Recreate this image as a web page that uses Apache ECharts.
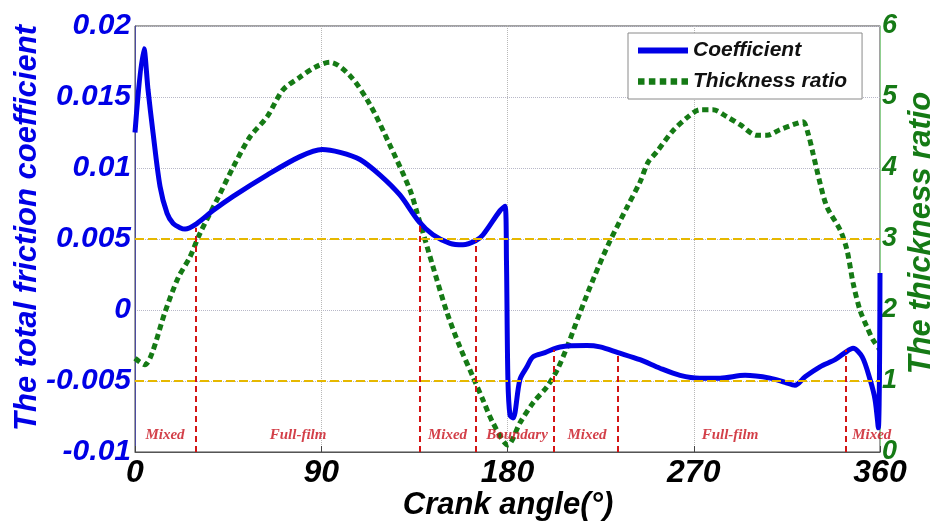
<!DOCTYPE html>
<html>
<head>
<meta charset="utf-8">
<script src="https://cdn.jsdelivr.net/npm/echarts/dist/echarts.min.js"></script>
<style>
  html, body { margin: 0; padding: 0; background: #fff; }
  #chart { width: 930px; height: 522px; }
</style>
</head>
<body>
<div id="chart"></div>
<script>
// friction coefficient vs crank angle
const coefAngle = [0, 4.3, 6.3, 8.7, 12.1, 15.5, 18.4, 21.7, 24.2, 30, 37.7, 47.4, 63.8, 79.7, 90.4,
  99.1, 108.7, 118.4, 128, 136.8, 144, 152.2, 158.5, 164.8, 168.2, 176.4, 178.8, 179.5, 180.2, 181.2,
  182.7, 186, 189.4, 192.3, 198.1, 205.4, 218.4, 224.7, 233.4, 244, 253.7, 263.4, 273, 282.7, 294.8,
  306.9, 314.1, 318.9, 323.8, 331, 338.3, 343.1, 347, 351.4, 355.2, 357.6, 359.2, 360]
const coefValue = [0.0125, 0.0184, 0.0155, 0.0125, 0.0087, 0.0068, 0.0061, 0.0058, 0.0057, 0.0061, 0.0070, 0.0080, 0.0095, 0.0108, 0.0113,
  0.0111, 0.0106, 0.0095, 0.0081, 0.0063, 0.0053, 0.0047, 0.0046, 0.0049, 0.0053, 0.0070, 0.0073, 0.0035, -0.0049, -0.0074,
  -0.0076, -0.0049, -0.0040, -0.0033, -0.0030, -0.0026, -0.0025, -0.0026, -0.0030, -0.0035, -0.0041, -0.0046, -0.0048, -0.0048, -0.0046,
  -0.0048, -0.0051, -0.0053, -0.0047, -0.0040, -0.0035, -0.0030, -0.0027, -0.0033, -0.0049, -0.0063, -0.0083, 0.0026]

// film thickness ratio vs crank angle
const ratioAngle = [0, 4.8, 8.2, 14.5, 20.8, 26.6, 31.4, 39.6, 47.4, 55.6, 63.8, 71.5, 79.7, 87, 94.2,
  103.9, 113.6, 123.2, 132.9, 136.3, 144, 150.8, 157, 163.3, 168.2, 173, 180.2, 186, 192.3, 199.1,
  203.9, 208.8, 215, 221.8, 229, 237.8, 244, 247.9, 252.2, 259.5, 267.2, 273, 279.3, 286.1, 292.4,
  300.6, 305.4, 311.7, 318, 322.8, 325.2, 327.6, 331, 334.4, 340.7, 344, 347, 350.3, 353.7, 356.6, 360]
const ratioValue = [1.32, 1.23, 1.39, 1.97, 2.45, 2.75, 3.08, 3.55, 4.01, 4.44, 4.72, 5.10, 5.28, 5.42, 5.49,
  5.30, 4.89, 4.32, 3.69, 3.37, 2.61, 1.96, 1.48, 1.06, 0.73, 0.41, 0.10, 0.41, 0.69, 0.92,
  1.15, 1.48, 1.96, 2.46, 2.94, 3.45, 3.80, 4.08, 4.23, 4.51, 4.72, 4.82, 4.82, 4.72, 4.61,
  4.46, 4.46, 4.54, 4.61, 4.65, 4.49, 4.21, 3.79, 3.45, 3.13, 2.85, 2.38, 2.0, 1.76, 1.58, 1.44]

// lubrication regime boundaries (angle, top of the red line on the coefficient axis)
const boundaryAngle = [29.5, 137.7, 164.8, 202.5, 233.4, 343.6]
const boundaryTop = [0.0058, 0.0061, 0.0049, -0.0028, -0.0030, -0.0028]
const regionName = ['Mixed', 'Full-film', 'Mixed', 'Boundary', 'Mixed', 'Full-film', 'Mixed']
const regionAngle = [14.5, 78.8, 151, 184.6, 218.4, 287.5, 356]

const thresholds = [0.005, -0.005]
const xTicks = ['0', '90', '180', '270', '360']

const FONT = 'Liberation Sans'
const BLUE = '#0000e6'
const GREEN = '#157a15'

const myChart = echarts.init(document.getElementById('chart'))

const options = {
  animation: false,
  grid: {
    left: 135, right: 50, top: 26, bottom: 70,
    show: true, borderColor: '#444', borderWidth: 1
  },
  legend: {
    orient: 'vertical',
    left: 628, top: 33,
    padding: [7, 15, 7, 10],
    itemGap: 10,
    itemWidth: 50, itemHeight: 14,
    backgroundColor: '#fff',
    borderColor: '#8a8a8a', borderWidth: 1,
    textStyle: { fontFamily: FONT, fontStyle: 'italic', fontWeight: 'bold', fontSize: 21, color: '#111' },
    data: [
      { name: 'Coefficient', icon: 'path://M0,0 L50,0 L50,6 L0,6 Z', itemStyle: { color: BLUE } },
      { name: 'Thickness ratio', icon: 'path://M0,0 L6,0 L6,6 L0,6 Z M10,0 L16,0 L16,6 L10,6 Z M20,0 L26,0 L26,6 L20,6 Z M30,0 L36,0 L36,6 L30,6 Z M40,0 L46,0 L46,6 L40,6 Z', itemStyle: { color: GREEN } }
    ]
  },
  xAxis: {
    type: 'value', min: 0, max: 360, interval: 90,
    axisLine: { onZero: false, lineStyle: { color: '#555', width: 1 } },
    axisTick: { inside: true, length: 6, lineStyle: { color: '#444' } },
    axisLabel: {
      margin: 5,
      fontFamily: FONT, fontStyle: 'italic', fontWeight: 'bold', fontSize: 32, color: '#000',
      formatter: v => xTicks[Math.round(v / 90)]
    },
    splitLine: { show: true, lineStyle: { color: '#b8b8b8', type: 'dotted', width: 1 } }
  },
  yAxis: [
    {
      type: 'value', min: -0.01, max: 0.02, interval: 0.005,
      axisLine: { show: true, lineStyle: { color: '#4b4ba0', width: 1 } },
      axisTick: { show: false },
      axisLabel: {
        margin: 4,
        fontFamily: FONT, fontStyle: 'italic', fontWeight: 'bold', fontSize: 30, color: BLUE,
        formatter: v => String(+v.toFixed(3))
      },
      splitLine: { show: true, lineStyle: { color: '#b8b8c8', type: 'dotted', width: 1 } }
    },
    {
      type: 'value', min: 0, max: 6, interval: 1,
      position: 'right',
      axisLine: { show: true, lineStyle: { color: '#8fcf8f', width: 1 } },
      axisTick: { show: false },
      axisLabel: {
        margin: 2,
        fontFamily: FONT, fontStyle: 'italic', fontWeight: 'bold', fontSize: 27, color: GREEN
      },
      splitLine: { show: false }
    }
  ],
  series: [
    {
      name: 'Thickness ratio',
      type: 'line',
      yAxisIndex: 1,
      data: ratioAngle.map((a, i) => [a, ratioValue[i]]),
      symbol: 'none',
      smooth: 0.3,
      z: 3,
      lineStyle: { color: GREEN, width: 5, type: [6, 4] },
      itemStyle: { color: GREEN }
    },
    {
      name: 'Coefficient',
      type: 'line',
      yAxisIndex: 0,
      data: coefAngle.map((a, i) => [a, coefValue[i]]),
      symbol: 'none',
      smooth: 0.3,
      z: 4,
      lineStyle: { color: BLUE, width: 5 },
      itemStyle: { color: BLUE },
      markLine: {
        silent: true,
        symbol: 'none',
        label: { show: false },
        data: [
          ...thresholds.map(t => [
            { coord: [0, t], lineStyle: { color: '#e6b800', type: [9, 4], width: 2 } },
            { coord: [360, t] }
          ]),
          ...boundaryAngle.map((a, i) => [
            { coord: [a, -0.01], lineStyle: { color: '#d41414', type: [6, 4], width: 2 } },
            { coord: [a, boundaryTop[i]] }
          ])
        ]
      }
    },
    {
      // regime names along the bottom of the plot
      type: 'scatter',
      yAxisIndex: 0,
      symbolSize: 0,
      silent: true,
      z: 5,
      data: regionAngle.map((a, i) => ({ value: [a, -0.0088], name: regionName[i] })),
      label: {
        show: true,
        position: 'inside',
        formatter: p => p.name,
        fontFamily: 'Liberation Serif', fontStyle: 'italic', fontWeight: 'bold',
        fontSize: 15, color: '#c8101c'
      }
    }
  ],
  graphic: [
    {
      type: 'text', x: 27, y: 228, rotation: Math.PI / 2,
      style: {
        text: 'The total friction coefficient', fill: BLUE,
        font: 'italic bold 31px "Liberation Sans"', textAlign: 'center', textVerticalAlign: 'middle'
      }
    },
    {
      type: 'text', x: 921, y: 233, rotation: Math.PI / 2,
      style: {
        text: 'The thickness ratio', fill: GREEN,
        font: 'italic bold 31px "Liberation Sans"', textAlign: 'center', textVerticalAlign: 'middle'
      }
    },
    {
      type: 'text', x: 508, y: 505,
      style: {
        text: 'Crank angle(°)', fill: '#000',
        font: 'italic bold 31px "Liberation Sans"', textAlign: 'center', textVerticalAlign: 'middle'
      }
    }
  ]
}

myChart.setOption(options)
</script>
</body>
</html>
